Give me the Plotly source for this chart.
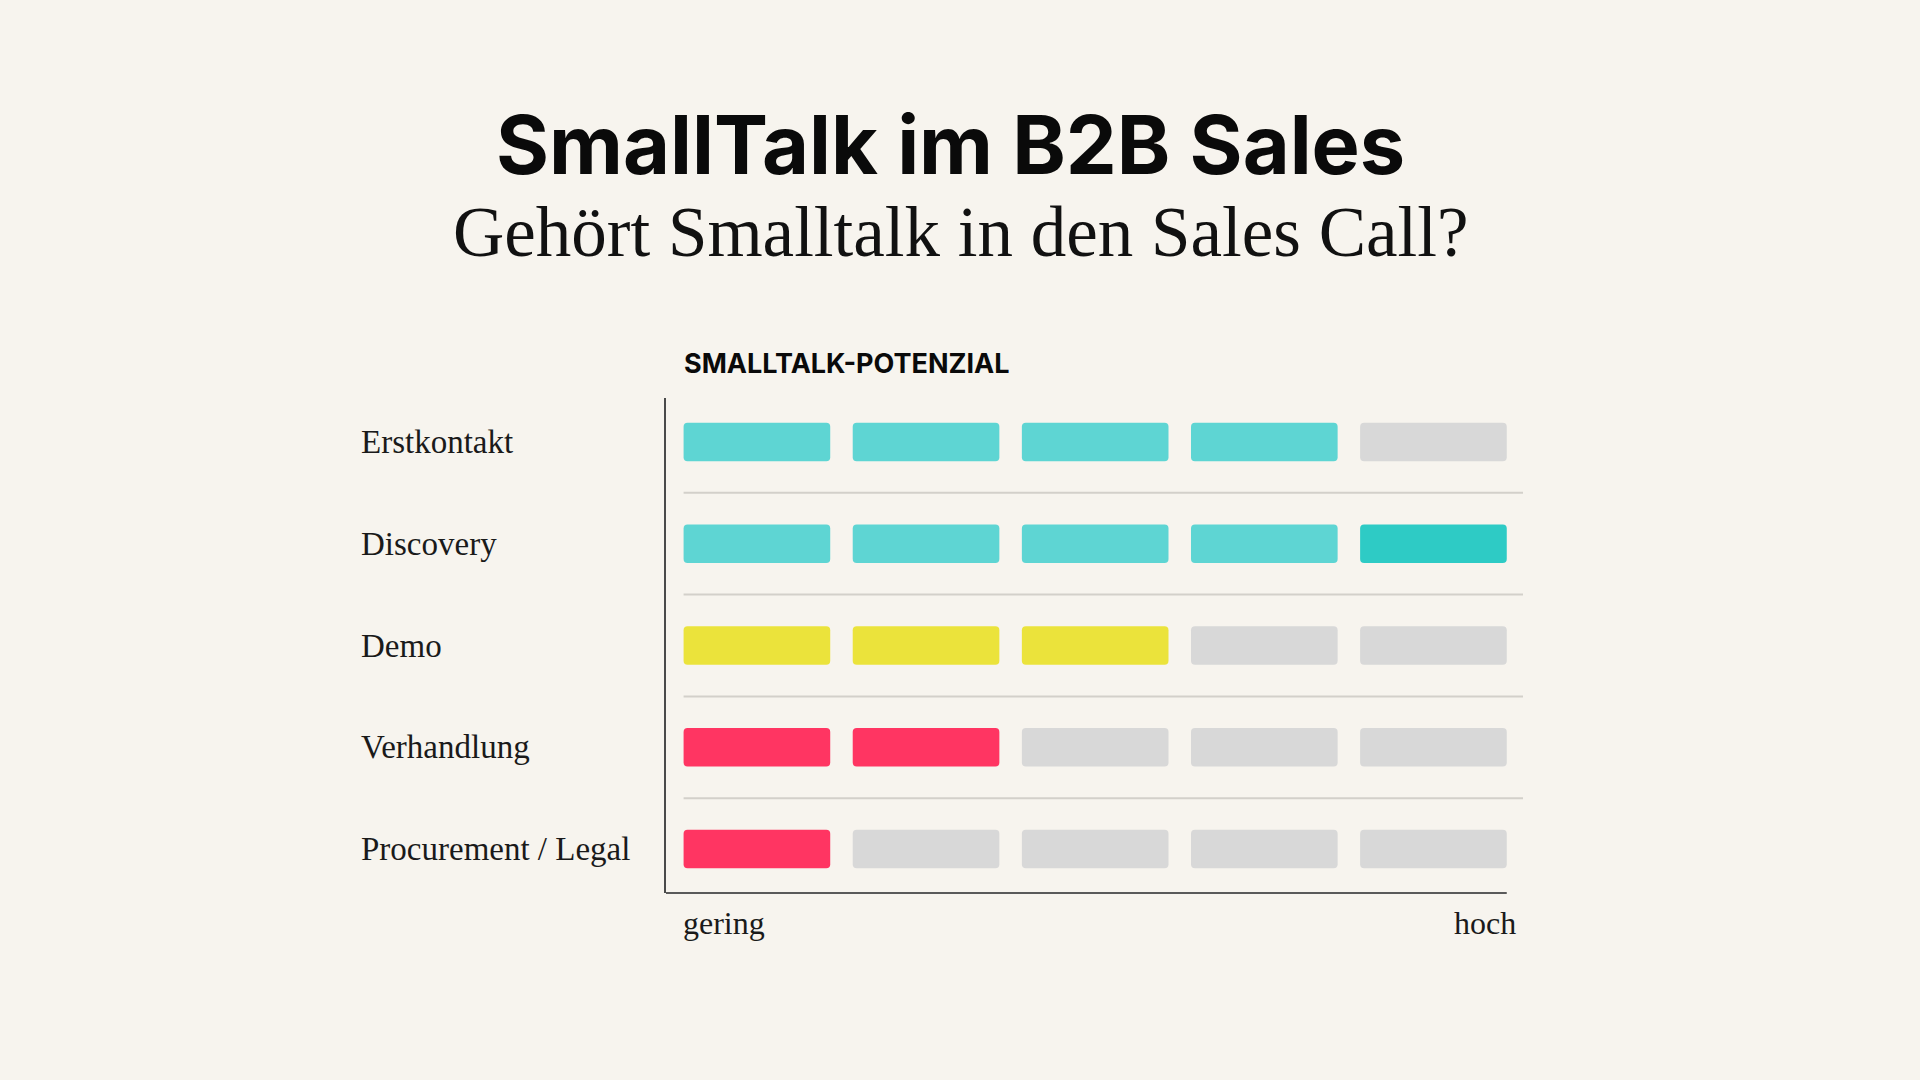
"""SmallTalk im B2B Sales - Smalltalk-Potenzial je Phase des Sales Calls."""

import plotly.graph_objects as go

# Data
stages = ["Erstkontakt", "Discovery", "Demo", "Verhandlung", "Procurement / Legal"]
potential = [4, 5, 3, 2, 1]  # filled cells out of 5
stage_colors = ["#5ED5D3", "#5ED5D3", "#EBE33B", "#FF3562", "#FF3562"]
scale_steps = [0, 1, 2, 3, 4]
scale_labels = ["gering", "hoch"]

PEAK_COLOR = "#2ECBC5"  # top step reached
OFF_COLOR = "#D8D8D8"
BG = "#F7F4EE"
CELL_W = 0.867
BAR_H = 0.378

SERIF = "Liberation Serif, Times New Roman, serif"
SANS = "Inter, Roboto, sans-serif"

# plot area in page pixels
L, R, T, B = 666, 1523, 398, 893
W, H = 1920, 1080


def px_x(px):
    return (px - L) / (R - L)


def px_y(py):
    return (B - py) / (B - T)


ys, xs, bases, colors = [], [], [], []
for stage, level, color in zip(stages, potential, stage_colors):
    for step in scale_steps:
        ys.append(stage)
        xs.append(CELL_W)
        bases.append(step)
        if step >= level:
            colors.append(OFF_COLOR)
        elif step == len(scale_steps) - 1:
            colors.append(PEAK_COLOR)
        else:
            colors.append(color)

fig = go.Figure(
    go.Bar(
        y=ys,
        x=xs,
        base=bases,
        orientation="h",
        width=BAR_H,
        marker=dict(color=colors, line=dict(width=0)),
        hoverinfo="skip",
    )
)

x_start = -0.104
x_end = 4.963

shapes = []
# row separators
for i in range(len(stages) - 1):
    shapes.append(
        dict(
            type="line", xref="x", yref="y",
            x0=0, x1=x_end, y0=i + 0.5, y1=i + 0.5,
            line=dict(color="#D3D0CA", width=2),
        )
    )
# bottom axis line
shapes.append(
    dict(
        type="line", xref="x", yref="paper",
        x0=x_start, x1=scale_steps[-1] + CELL_W, y0=0, y1=0,
        line=dict(color="#5A5A5A", width=2),
    )
)

annotations = [
    dict(
        text="<b>SmallTalk im B2B Sales</b>",
        x=px_x(950), y=px_y(145), xanchor="center", yanchor="middle",
        font=dict(family=SANS, size=81, color="#0A0A0A"),
    ),
    dict(
        text="Gehört Smalltalk in den Sales Call?",
        x=px_x(961), y=px_y(232), xanchor="center", yanchor="middle",
        font=dict(family=SERIF, size=71, color="#111111"),
    ),
    dict(
        text="<b>SMALLTALK-POTENZIAL</b>",
        x=px_x(682), y=px_y(363), xanchor="left", yanchor="middle",
        font=dict(family=SANS, size=27, color="#0A0A0A"),
    ),
    dict(
        text=scale_labels[0],
        x=px_x(681), y=px_y(923), xanchor="left", yanchor="middle",
        font=dict(family=SERIF, size=32, color="#1A1A1A"),
    ),
    dict(
        text=scale_labels[1],
        x=px_x(1518), y=px_y(923), xanchor="right", yanchor="middle",
        font=dict(family=SERIF, size=32, color="#1A1A1A"),
    ),
]
for stage in stages:
    annotations.append(
        dict(
            text=stage,
            xref="paper", yref="y",
            x=px_x(359), y=stage, xanchor="left", yanchor="middle",
            font=dict(family=SERIF, size=33, color="#1A1A1A"),
        )
    )
for a in annotations:
    a.setdefault("xref", "paper")
    a.setdefault("yref", "paper")
    a["showarrow"] = False

fig.update_layout(
    width=W,
    height=H,
    margin=dict(l=L, r=W - R, t=T, b=H - B, pad=0),
    paper_bgcolor=BG,
    plot_bgcolor=BG,
    showlegend=False,
    barmode="overlay",
    barcornerradius=4,
    shapes=shapes,
    annotations=annotations,
    xaxis=dict(
        range=[x_start, x_end],
        visible=False,
        fixedrange=True,
    ),
    yaxis=dict(
        type="category",
        categoryorder="array",
        categoryarray=stages,
        range=[len(stages) - 1 + 0.432, -0.432],
        showticklabels=False,
        showgrid=False,
        zeroline=False,
        showline=True,
        linecolor="#4A4A4A",
        linewidth=1.5,
        ticks="",
        fixedrange=True,
    ),
)

fig.write_html(
    "out.html",
    config={"displayModeBar": False},
    post_script="document.body.style.margin='0';",
)
